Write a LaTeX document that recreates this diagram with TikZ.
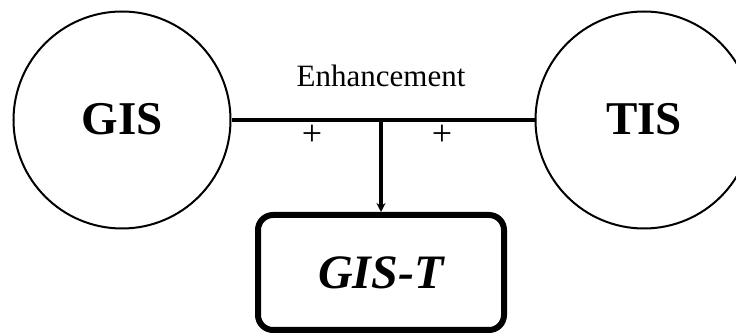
\documentclass[tikz,border=0pt]{standalone}
\usepackage{fontspec}
\setmainfont{Liberation Serif}
\usetikzlibrary{arrows.meta}

\begin{document}
\begin{tikzpicture}[x=1pt, y=-1pt, >={Stealth[length=9pt,width=9pt]}]
    \clip (0,0) rectangle (736,336);

    \node[draw, circle, line width=2pt, minimum size=217pt, inner sep=0pt,
          font=\fontsize{47}{50}\selectfont\bfseries] (gis) at (122,120) {\raisebox{3pt}{GIS}};
    \node[draw, circle, line width=2pt, minimum size=217pt, inner sep=0pt,
          font=\fontsize{47}{50}\selectfont\bfseries] (tis) at (644,120) {\raisebox{3pt}{TIS}};

    \node[draw, rounded corners=15pt, line width=6pt, minimum width=246pt,
          minimum height=115pt, inner sep=0pt,
          font=\fontsize{48}{52}\selectfont\bfseries\itshape] (gist) at (381,272.5) {GIS-T};

    \draw[line width=3.8pt] (gis.east) -- (tis.west);
    \draw[->, line width=3.8pt] (gis.east -| gist.north) -- (gist.north);

    \node[anchor=base, font=\fontsize{31}{34}\selectfont] (enh) at (381,87) {Enhancement};
    \node[font=\fontsize{36}{38}\selectfont] (pl) at (312,135) {+};
    \node[font=\fontsize{36}{38}\selectfont] (pr) at (442,135) {+};
\end{tikzpicture}
\end{document}
